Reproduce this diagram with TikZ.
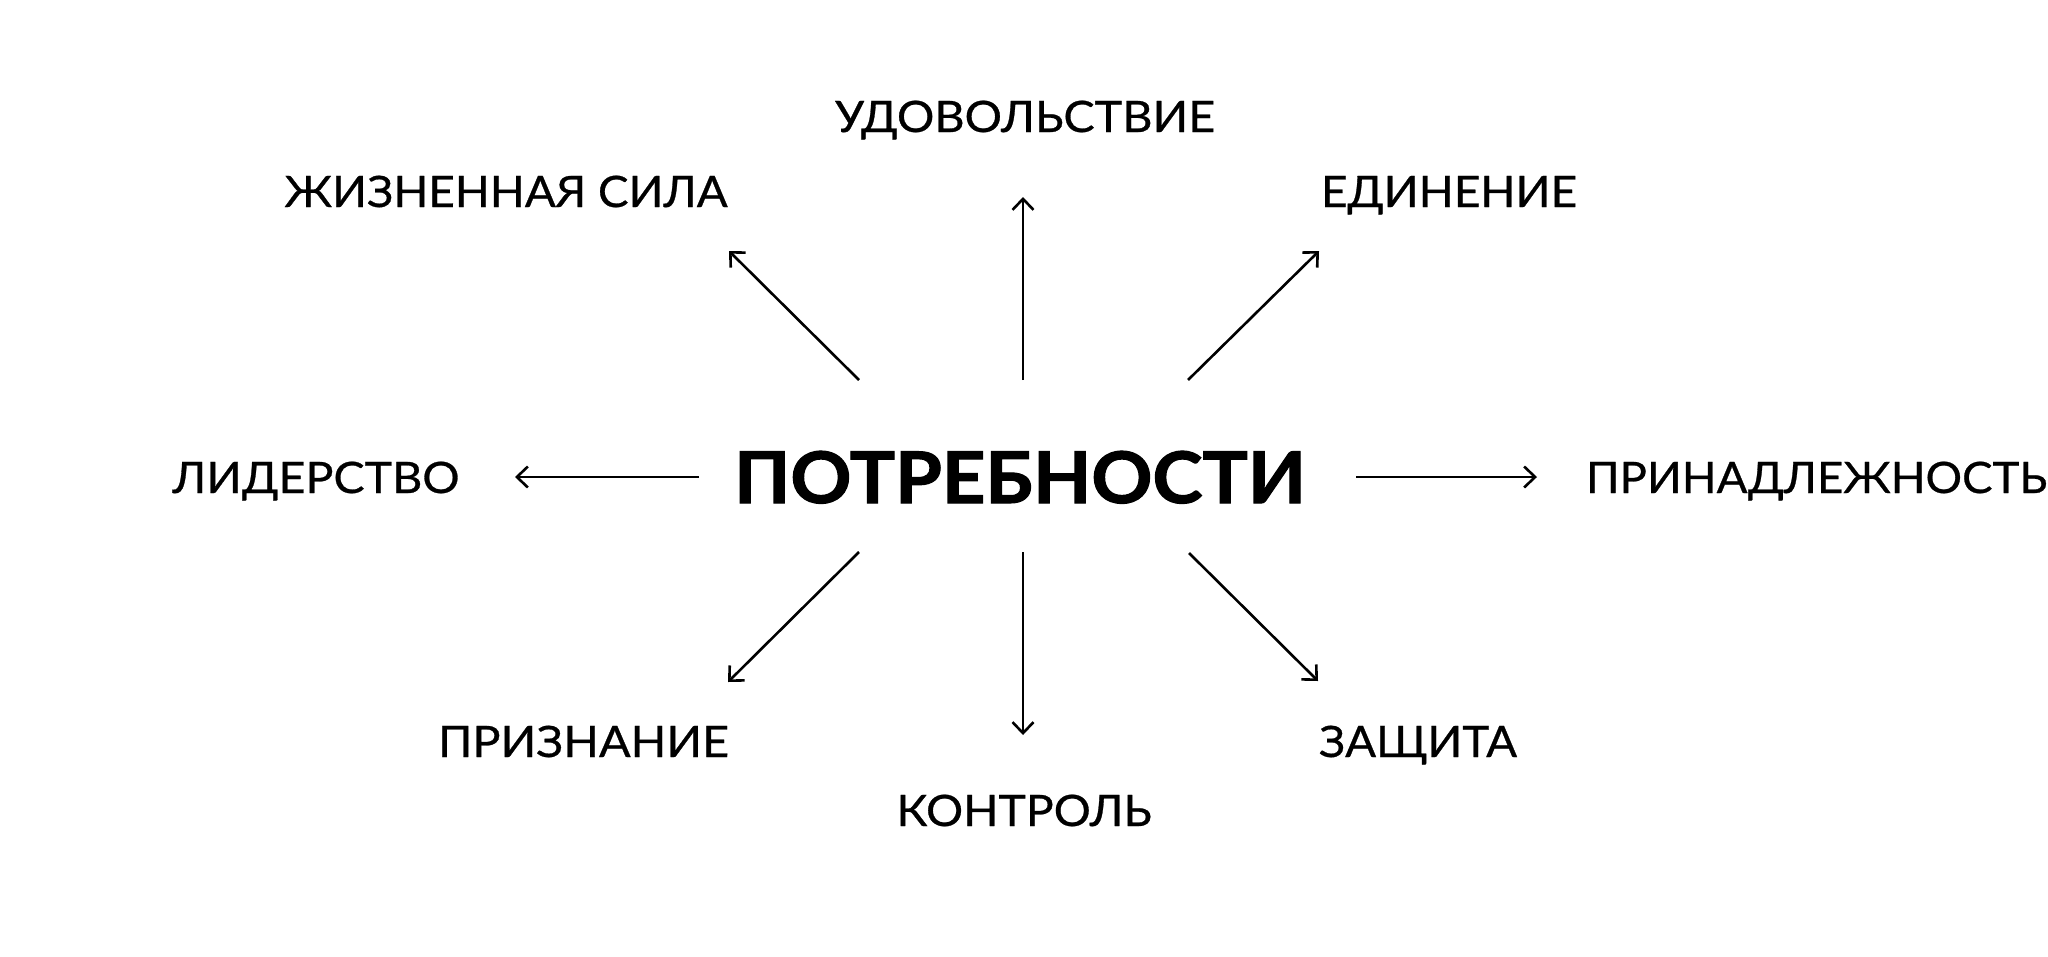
\documentclass[tikz,border=0pt]{standalone}
\usepackage{fontspec}
\usepackage{graphicx}
\setmainfont{Lato}
\newfontfamily\lblfont[FakeBold=0.6]{Lato}
\newfontfamily\ttlfont[FakeBold=1.5]{Lato Bold}
\usetikzlibrary{arrows.meta}
\newcommand\fitw[2]{\resizebox{#1pt}{\height}{#2}}
\tikzset{
  lbl/.style={inner sep=0pt, anchor=base, font=\lblfont\fontsize{43.3}{50}\selectfont, text=black},
  ttl/.style={inner sep=0pt, anchor=base, font=\ttlfont\fontsize{71.2}{80}\selectfont, text=black},
  arr/.style={-{Straight Barb[length=11pt,width=21pt,line width=2.6pt]}, line width=2.6pt, black},
}
\begin{document}
\begin{tikzpicture}[x=1pt,y=-1pt]
\useasboundingbox[fill=white] (0,0) rectangle (2048,956);
% nodes
\node[ttl] (c) at (1020,503) {\fitw{572}{ПОТРЕБНОСТИ}};
\node[lbl] (up) at (1025,132) {\fitw{380}{УДОВОЛЬСТВИЕ}};
\node[lbl] (ul) at (506,207) {\fitw{443}{ЖИЗНЕННАЯ СИЛА}};
\node[lbl] (ur) at (1449,207) {\fitw{256}{ЕДИНЕНИЕ}};
\node[lbl] (l) at (316,493) {\fitw{287}{ЛИДЕРСТВО}};
\node[lbl] (r) at (1816.5,493) {\fitw{461}{ПРИНАДЛЕЖНОСТЬ}};
\node[lbl] (dl) at (583.5,757) {\fitw{291}{ПРИЗНАНИЕ}};
\node[lbl] (dn) at (1024,826) {\fitw{255}{КОНТРОЛЬ}};
\node[lbl] (dr) at (1418,757) {\fitw{198}{ЗАЩИТА}};
% arrow end points
\coordinate (sUL) at (859,380); \coordinate (eUL) at (729,251);
\coordinate (sUP) at (1023,380); \coordinate (eUP) at (1023,197);
\coordinate (sUR) at (1188,380); \coordinate (eUR) at (1319,251);
\coordinate (sL) at (699,477); \coordinate (eL) at (515,477);
\coordinate (sR) at (1356,477); \coordinate (eR) at (1537,477);
\coordinate (sDL) at (859,552); \coordinate (eDL) at (728,682);
\coordinate (sDN) at (1023,552); \coordinate (eDN) at (1023,735);
\coordinate (sDR) at (1189,553); \coordinate (eDR) at (1318,681);
% arrows
\draw[arr] (sUL) -- (eUL);
\draw[arr] (sUP) -- (eUP);
\draw[arr] (sUR) -- (eUR);
\draw[arr] (sL) -- (eL);
\draw[arr] (sR) -- (eR);
\draw[arr] (sDL) -- (eDL);
\draw[arr] (sDN) -- (eDN);
\draw[arr] (sDR) -- (eDR);
\end{tikzpicture}
\end{document}
